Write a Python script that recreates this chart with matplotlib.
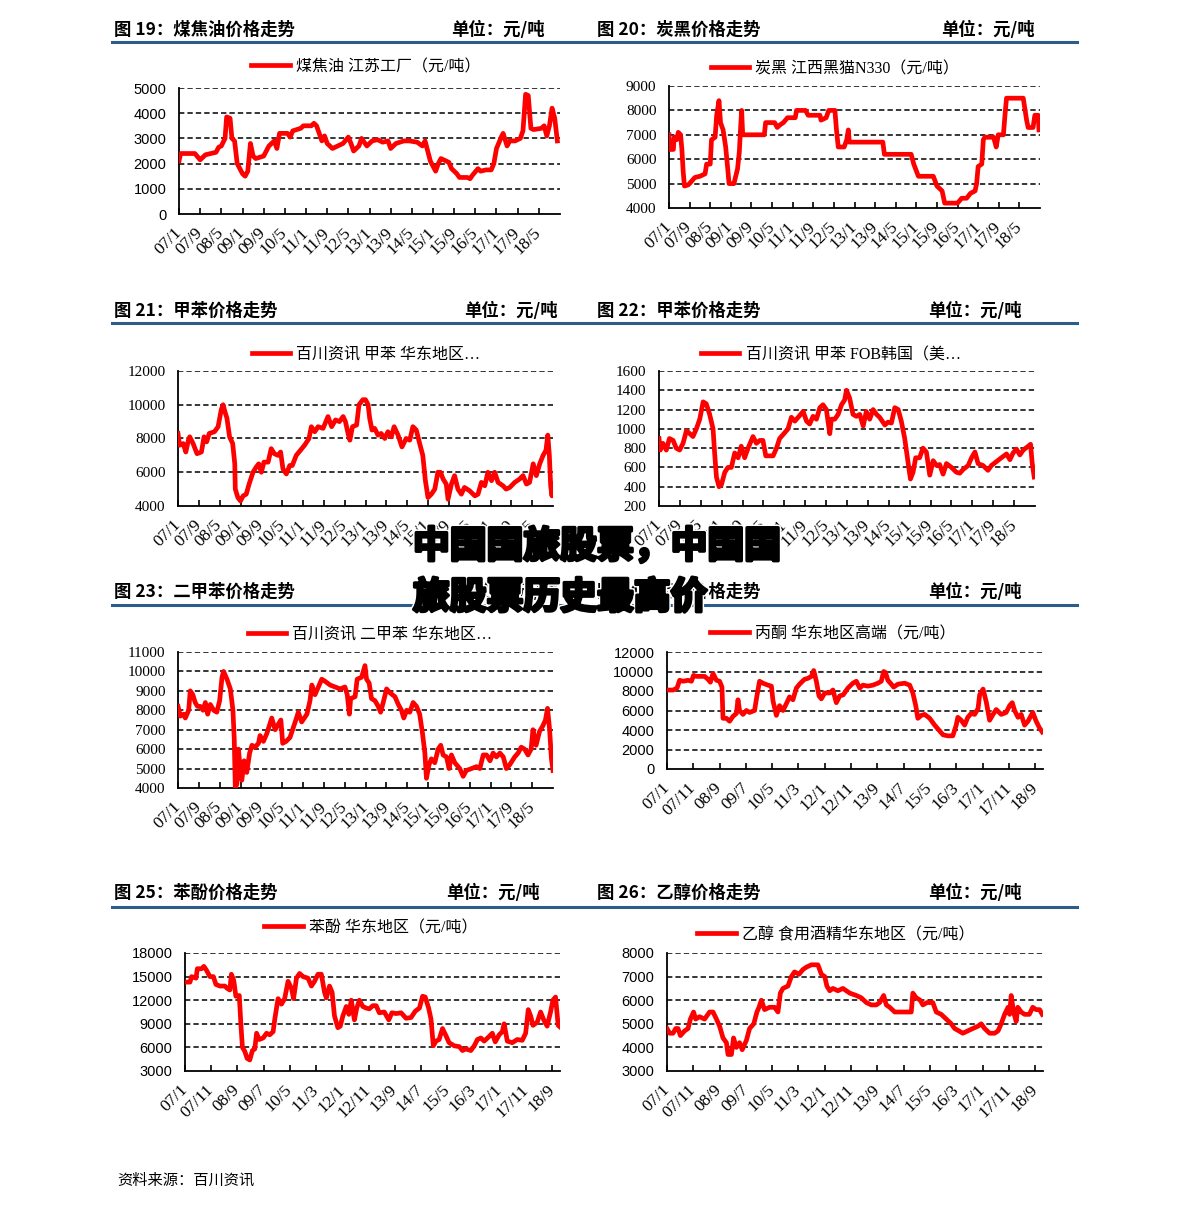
import matplotlib
matplotlib.use('Agg')
import matplotlib.pyplot as plt
import matplotlib.patheffects as pe
from matplotlib.lines import Line2D

W, H = 1191, 1209
CJK = ['Noto Sans CJK SC', 'DejaVu Sans']
LEG_FONT = ['Liberation Serif', 'Noto Sans CJK SC']
RED = '#FF0000'
BLUE = '#2E5C8A'

# x tick labels
labels_8m = ['07/1', '07/9', '08/5', '09/1', '09/9', '10/5', '11/1', '11/9', '12/5',
             '13/1', '13/9', '14/5', '15/1', '15/9', '16/5', '17/1', '17/9', '18/5']
labels_10m = ['07/1', '07/11', '08/9', '09/7', '10/5', '11/3', '12/1', '12/11', '13/9',
              '14/7', '15/5', '16/3', '17/1', '17/11', '18/9']

# series as (months since 2007-01, price)
coal_tar = [(0, 2100), (0.6, 2400), (2, 2400), (5, 2400), (6, 2400), (8, 2150), (10, 2350),
            (12, 2400), (14, 2450), (15, 2650), (16, 2700), (17.4, 3000), (18, 3850),
            (19.3, 3800), (20, 3000), (21, 2900), (22, 2000), (24, 1600), (25, 1500),
            (26, 1700), (27, 2800), (28, 2300), (29, 2200), (32, 2300), (34, 2700),
            (36, 2900), (37, 2600), (38, 3200), (41, 3200), (42, 3050), (43, 3300),
            (46, 3400), (47, 3500), (50, 3500), (51, 3600), (52, 3500), (54, 2900),
            (55, 3100), (56, 2800), (58, 2600), (60, 2700), (62, 2800), (64, 3050),
            (65, 2800), (66, 2500), (68, 2700), (69, 3000), (71, 2700), (73, 2900),
            (75, 2950), (77, 2850), (79, 2900), (80, 2600), (82, 2800), (85, 2900),
            (87, 2900), (90, 2850), (92, 2700), (93, 2900), (94, 2500), (95, 2100),
            (96, 1900), (97, 1700), (98, 2000), (99, 2200), (101, 2100), (102, 2050),
            (103, 1800), (105, 1600), (106, 1450), (109, 1450), (110, 1400), (111, 1550),
            (113, 1800), (114, 1700), (116, 1750), (118, 1750), (119, 2000), (120, 2600),
            (122, 3100), (122.5, 3200), (124, 2700), (125, 2900), (127, 2900), (129, 3000),
            (130, 3300), (131, 4750), (132, 4700), (133, 3400), (134, 3350), (137, 3400),
            (138, 3500), (139, 3100), (140, 3500), (141, 4200), (142, 3800), (143, 2900)]

carbon_black = [(0, 7000), (0.3, 6400), (1.7, 6400), (2, 6900), (3, 6800), (3.6, 7100),
                (4.5, 7000), (5, 6400), (5.5, 5500), (6, 4900), (7.5, 4950), (8.8, 5100),
                (10, 5250), (12, 5300), (14, 5400), (14.6, 5800), (16, 5800), (16.5, 6800),
                (17.9, 6900), (18.5, 7800), (19.4, 8400), (20, 7500), (21, 7200), (22, 6500),
                (22.8, 5600), (23.3, 5000), (25.2, 5000), (25.9, 5300), (26.6, 5600),
                (27.3, 6300), (27.8, 7300), (28.2, 8000), (28.6, 7000), (37, 7000),
                (37.5, 7500), (41, 7500), (42, 7300), (43, 7400), (44.4, 7500), (46, 7700),
                (49, 7700), (49.5, 8000), (53, 8000), (54, 7800), (58.6, 7800), (59, 7600),
                (61, 7700), (62, 8000), (64.4, 8000), (65, 7200), (65.7, 6500), (68, 6500),
                (69, 6800), (69.6, 7200), (70, 6700), (83, 6700), (83.6, 6200), (94, 6200),
                (95, 5800), (96.8, 5300), (102.6, 5300), (104, 4900), (106, 4700),
                (107, 4200), (112, 4200), (113.6, 4400), (115.5, 4400), (117, 4600),
                (118.8, 4700), (119.4, 5000), (120, 5700), (121.4, 5800), (122, 6800),
                (122.6, 6900), (126, 6900), (127, 6500), (127.8, 7000), (129.8, 7000),
                (130.4, 7800), (131, 8500), (137.5, 8500), (138.8, 7600), (139.4, 7300),
                (141.3, 7300), (142, 7800), (143.3, 7800), (143.6, 7200)]

toluene_east = [(0, 8300), (0.6, 7600), (2, 7700), (3, 7200), (4, 7900), (4.5, 8100),
                (5.8, 7700), (7.3, 7100), (9, 7200), (10, 8100), (11, 7800), (12, 8300),
                (14, 8400), (15.4, 8700), (16.6, 9700), (17.3, 10000), (18, 9600),
                (18.8, 9200), (19.8, 8100), (21, 7700), (21.8, 6500), (22, 5000), (23, 4500),
                (24, 4300), (25, 4600), (26.2, 4700), (27.3, 5300), (28.8, 6000), (30, 6300),
                (31, 6500), (32, 6000), (33, 6600), (34.6, 6600), (35.8, 7400), (37, 7100),
                (38.4, 7000), (39.4, 7200), (40.3, 6200), (41.6, 5900), (42.9, 6400),
                (43.9, 6400), (45.4, 7000), (47, 7300), (48.6, 7600), (50.3, 8000),
                (51.2, 8700), (52.5, 8400), (53.8, 8700), (55.7, 8600), (57.6, 9300),
                (59, 8700), (60.5, 9100), (62, 9000), (63.4, 9300), (64.3, 9000),
                (65.3, 8300), (66, 7900), (67, 8700), (68.6, 8800), (69.5, 10000),
                (71, 10300), (72, 10300), (73, 10000), (73.6, 9200), (74.5, 8500),
                (75.5, 8600), (76.8, 8200), (78, 8300), (79.4, 8000), (80.6, 8400),
                (81.9, 8100), (83, 8700), (84.5, 8200), (86, 7500), (87.6, 8000),
                (89, 7900), (90.2, 8700), (91.5, 8500), (92.8, 7700), (94, 7000),
                (95, 5500), (96, 4500), (97.3, 4700), (98.6, 5000), (99.8, 6000),
                (100.8, 6000), (101.8, 5600), (103, 5300), (103.7, 4400), (105, 5300),
                (106.2, 5800), (107.5, 5000), (108.8, 4700), (110, 5100), (112, 4900),
                (114, 4600), (115.2, 4700), (116.5, 5400), (117.8, 5200), (119, 6000),
                (120.4, 5500), (121.6, 6000), (122.9, 5400), (124.8, 5200), (126, 5000),
                (127.4, 5100), (129.3, 5400), (131.2, 5600), (132.5, 5800), (133.8, 5300),
                (135, 5400), (136.4, 6500), (137.6, 5800), (138.9, 6500), (140.2, 7000),
                (141.3, 7300), (142, 8200), (142.6, 7000), (143.1, 5200), (143.6, 4600),
                (144, 5300)]

toluene_fob = [(0, 900), (0.5, 780), (1.5, 850), (2.8, 780), (4, 900), (5.4, 880),
               (6.6, 800), (7.9, 780), (9.2, 850), (10.5, 980), (11.8, 950), (13, 920),
               (14.3, 1000), (15.6, 1100), (16.9, 1280), (18.1, 1260), (19.4, 1150),
               (20.7, 1000), (21.3, 750), (22, 500), (23, 400), (23.9, 420), (25.2, 550),
               (26.4, 600), (27.7, 600), (29, 750), (30.3, 700), (31.5, 820), (32.8, 700),
               (34.1, 800), (36, 920), (37.3, 850), (38.6, 880), (39.8, 880), (40.9, 720),
               (42.4, 720), (43.7, 720), (45, 800), (46.2, 900), (47.5, 940), (49.4, 1000),
               (50.7, 1120), (52, 1080), (53.3, 1120), (55.2, 1180), (56.5, 1080),
               (57.7, 1050), (59, 1130), (60.3, 1100), (61.6, 1220), (62.8, 1250),
               (64.1, 1200), (65.4, 950), (66, 1100), (67.3, 1100), (68.6, 1150),
               (69.9, 1250), (71.1, 1300), (71.8, 1400), (73, 1320), (74.3, 1150),
               (75.6, 1130), (76.9, 1150), (78.2, 1030), (79.4, 1180), (80.7, 1100),
               (82, 1200), (83.3, 1150), (84.5, 1120), (86.5, 1040), (87.7, 1070),
               (89, 1060), (90.3, 1220), (91.6, 1200), (92.8, 1080), (94.1, 900),
               (95.4, 650), (96.3, 480), (97.3, 550), (98.3, 700), (99.8, 700), (101.1, 800),
               (102.4, 760), (103.7, 520), (105, 670), (106.3, 620), (107.5, 630),
               (108.8, 530), (110.1, 640), (112, 600), (113.9, 550), (115.2, 540),
               (116.5, 580), (118.4, 620), (119.7, 700), (121, 760), (122.2, 640),
               (124.1, 620), (126, 570), (127.3, 620), (129.2, 660), (131.1, 700),
               (133.1, 740), (134.4, 680), (135.6, 750), (136.9, 790), (138.2, 730),
               (139.5, 780), (141.4, 820), (142.3, 840), (142.9, 650), (143.7, 500)]

xylene = [(0, 8200), (0.9, 7700), (2.2, 7800), (2.8, 7600), (4.1, 8000), (4.7, 9000),
          (5.7, 8800), (6.6, 8400), (7.5, 8200), (8.6, 8200), (9.6, 8000), (10.5, 8400),
          (11.4, 7800), (12.4, 8300), (13.7, 8000), (14.9, 7900), (16, 8500), (16.9, 9700),
          (17.5, 10000), (18.8, 9600), (20.1, 9100), (21.1, 8000), (21.6, 6500),
          (22, 4000), (22.6, 4200), (23.2, 6000), (23.9, 5000), (24.5, 4400), (25.4, 5400),
          (26.4, 4800), (27.5, 5800), (28.4, 6200), (29.6, 6100), (30.9, 6300),
          (31.5, 6700), (32.8, 6400), (34.1, 6800), (36, 7600), (37.3, 7000), (38.6, 7300),
          (39.5, 7500), (40.2, 6300), (41.5, 6400), (43, 6600), (45, 7400), (46.2, 7900),
          (47.5, 7400), (49.5, 7800), (50.7, 8500), (51.4, 9300), (52.6, 8800),
          (53.9, 9200), (55.2, 9600), (56.4, 9500), (58.4, 9300), (60.3, 9200),
          (62.3, 9100), (64.1, 9200), (65, 8800), (65.8, 7800), (66.3, 8600), (68, 8700),
          (68.8, 9600), (70.5, 9700), (71.8, 10300), (72.4, 9600), (73.4, 9400),
          (74.3, 8600), (75.6, 8500), (76.9, 8200), (77.8, 7900), (78.8, 8400),
          (80.1, 9100), (81.4, 8900), (83.3, 8700), (84.6, 8300), (85.8, 8000),
          (86.7, 7600), (87.8, 8000), (89, 7900), (90.3, 8400), (91.6, 8200), (92.8, 7800),
          (93.9, 6800), (94.8, 5800), (95.4, 4500), (96.4, 5200), (97.3, 5500),
          (98.6, 5300), (99.9, 6000), (100.9, 6200), (101.8, 5700), (103.1, 5600),
          (104.1, 5000), (105, 5700), (106.3, 5300), (108.2, 5000), (109.5, 4600),
          (110.7, 4900), (112.7, 5000), (114.6, 5100), (115.9, 5000), (117.2, 5700),
          (118.5, 5700), (119.8, 5400), (121, 5800), (122.3, 5600), (123.6, 5800),
          (124.9, 5600), (126.1, 5000), (127.4, 5200), (129.3, 5600), (130.6, 5800),
          (131.8, 6100), (133.1, 6000), (134.4, 5700), (135.6, 6000), (136.3, 7000),
          (137.5, 6200), (138.8, 6900), (140.1, 7200), (141.1, 7500), (141.9, 8100),
          (142.7, 7000), (143.4, 5500), (144, 4900)]

acetone = [(0, 8100), (2.3, 8100), (3.8, 8300), (4.8, 9100), (6.1, 9000), (8, 9100),
           (9.3, 9000), (10.1, 9600), (11.2, 9500), (12.4, 9500), (14.3, 9500),
           (15.6, 9200), (16.5, 8900), (17.5, 9800), (18.8, 9100), (20, 9000), (20.9, 8400),
           (21.3, 5200), (22.6, 5200), (23.8, 4900), (25.1, 5400), (26.4, 5700),
           (27, 7100), (27.6, 6000), (28.9, 5600), (30.2, 6000), (31.4, 5800), (33.3, 6000),
           (34.2, 7500), (35.2, 9000), (36.5, 8800), (38.4, 8600), (39.7, 8500),
           (40.3, 7000), (41.6, 5500), (42.8, 6500), (44.1, 6000), (45.4, 6700),
           (46.6, 7400), (47.9, 7100), (49.2, 8300), (50.4, 8700), (52.3, 9200),
           (53.6, 9300), (54.9, 9500), (55.8, 10100), (56.8, 9000), (57.8, 7500),
           (58.7, 7200), (60, 7800), (61.9, 7800), (63.1, 8100), (64.4, 6800), (65.7, 7500),
           (67, 7600), (68.8, 8300), (70.7, 8800), (72, 9000), (73.3, 8300), (74.5, 8600),
           (76.4, 8500), (78.3, 8600), (80.2, 8800), (81.5, 9000), (82.4, 10000),
           (83.1, 9900), (84, 9100), (85.3, 8700), (86.2, 8400), (87.8, 8700),
           (90.4, 8800), (92.3, 8600), (93.5, 7800), (94.6, 6500), (95.4, 5200),
           (96.7, 5500), (98, 5600), (99.9, 5200), (101.8, 4500), (103.7, 3900),
           (105, 3500), (106.8, 3400), (108.7, 3400), (110, 4500), (110.6, 5300),
           (111.9, 5000), (113.2, 4500), (114.4, 5300), (115.7, 5700), (117, 5600),
           (118.3, 6200), (118.9, 7600), (120.2, 8200), (121.4, 6900), (122.7, 5000),
           (124, 5600), (125.2, 6100), (127.1, 5600), (129, 5800), (130.3, 6500),
           (131.3, 6800), (132.2, 6000), (133.5, 5300), (134.7, 5600), (136, 4500),
           (137.3, 4900), (139.1, 5800), (140.4, 4900), (141.7, 4200), (142.7, 3800)]

phenol = [(0, 14300), (1.9, 14300), (2.5, 15000), (4.2, 14800), (4.7, 16000), (6.3, 16000),
          (7.2, 16300), (8.2, 15800), (9.5, 15000), (10.8, 15000), (11.8, 14000),
          (13.3, 13800), (15.2, 13800), (16.1, 13500), (17.1, 13300), (17.7, 15300),
          (18.6, 14500), (19.4, 12500), (20.7, 12600), (21.3, 9000), (21.9, 6000),
          (22.8, 5500), (23.7, 4600), (24.7, 4400), (25.7, 5600), (26.6, 5800),
          (27.3, 7800), (28.3, 7000), (29.8, 7200), (31.1, 7800), (32.3, 7600),
          (33.6, 8000), (34.2, 9500), (34.9, 11000), (35.5, 12200), (36.8, 11500),
          (38, 12200), (39.3, 14400), (40.6, 13500), (41.4, 12200), (42.5, 14800),
          (43.7, 15400), (45, 15000), (46.9, 14800), (48.2, 13800), (49.4, 14400),
          (50.7, 15300), (52, 15300), (53.2, 13000), (53.9, 12300), (55.1, 13800),
          (56.1, 13000), (57, 10000), (58.3, 8500), (59.2, 8700), (60.2, 10000),
          (61.5, 11200), (62.5, 10200), (63.4, 12000), (64.6, 9500), (65.5, 11000),
          (66.5, 12000), (67.8, 11200), (69.1, 11000), (70.3, 10900), (71.6, 11300),
          (72.9, 11300), (74.1, 10400), (76, 10500), (77.7, 9500), (78.9, 10400),
          (80.5, 10300), (82.4, 10400), (84.3, 9700), (86.2, 9800), (87.8, 10600),
          (89.4, 11000), (90.6, 12500), (91.6, 12400), (92.9, 11000), (93.8, 9600),
          (94.7, 6200), (95.7, 6800), (96.9, 7000), (98.2, 8400), (99.5, 7500),
          (100.7, 6600), (102.7, 6200), (104.6, 6100), (105.8, 5600), (107.1, 5800),
          (109, 5600), (110.3, 6200), (111.5, 7000), (112.8, 7200), (114.1, 6800),
          (116, 7400), (117.2, 7800), (118.3, 6700), (119.8, 7600), (121, 8000),
          (121.7, 9000), (122.9, 6800), (124.8, 6600), (126.7, 7000), (128.6, 6900),
          (129.9, 7800), (130.9, 10800), (131.8, 10000), (132.7, 8800), (134.3, 9200),
          (135.6, 10500), (136.8, 9500), (138.1, 8700), (139.4, 10500), (140.3, 12000),
          (141.3, 12400), (142.3, 8800), (143, 8600)]

ethanol = [(0, 4800), (1, 4600), (2.3, 4600), (3.3, 4800), (4.2, 4800), (5.1, 4500),
           (6.7, 4700), (8, 4800), (8.9, 5200), (10.1, 5500), (10.9, 5200), (12.4, 5300),
           (14.3, 5200), (16.2, 5500), (17.5, 5500), (18.8, 5200), (20, 4900),
           (21.3, 4400), (22.6, 4200), (23.2, 3700), (24.5, 3700), (25.3, 4400),
           (26.4, 4000), (27.6, 4200), (28.6, 3900), (30.2, 4300), (31.4, 4800),
           (33, 5000), (34.2, 5500), (35, 5700), (35.9, 6000), (37.1, 5600), (39, 5700),
           (40.9, 5700), (42.2, 5500), (43.1, 6300), (44.1, 6500), (46, 6600), (47.3, 7000),
           (48.5, 7200), (50.2, 7100), (51.7, 7300), (53, 7400), (54.9, 7500),
           (57.4, 7500), (58.7, 7100), (60, 7000), (60.8, 6600), (61.9, 6400), (63.1, 6500),
           (65, 6400), (66.9, 6500), (69.5, 6300), (72, 6200), (73.9, 6100), (75.8, 5900),
           (77.7, 5800), (79.6, 5800), (80.9, 5900), (82.4, 6200), (83.4, 5800),
           (84.7, 5700), (86.6, 5500), (88.5, 5500), (91, 5500), (92.9, 5500),
           (93.5, 6300), (94.8, 6100), (96.3, 6000), (97.3, 5800), (98.9, 5900),
           (101.1, 5900), (102.4, 5500), (104.3, 5400), (106.2, 5200), (108.1, 5000),
           (109.4, 4800), (111, 4700), (112.5, 4600), (114.4, 4700), (116.3, 4800),
           (118.3, 4900), (119.5, 5000), (120.8, 4800), (122.7, 4600), (124.6, 4600),
           (125.9, 4700), (127.1, 5000), (128.4, 5400), (129.7, 5700), (130.3, 5400),
           (130.9, 6200), (131.8, 5500), (132.8, 5100), (133.4, 5700), (134.7, 5500),
           (136, 5400), (137.8, 5400), (139.1, 5700), (140.4, 5600), (141.7, 5600),
           (142.7, 5400)]

fig = plt.figure(figsize=(W / 100, H / 100), dpi=100)


def header(y, x_left, x_unit, title):
    fig.text(x_left / W, 1 - y / H, title, family=CJK, fontsize=12.5,
             fontweight='bold', ha='left', va='center')
    fig.text(x_unit / W, 1 - y / H, '单位：元/吨', family=CJK, fontsize=12.5,
             fontweight='bold', ha='right', va='center')


def panel(box, data, ylim, ystep, xmax, xstep, xlabels, label, leg_xy, yfont, yfs):
    left, right, top, bottom = box
    ax = fig.add_axes([left / W, 1 - bottom / H, (right - left) / W, (bottom - top) / H])
    xs = [p[0] for p in data]
    ys = [p[1] for p in data]
    ax.plot(xs, ys, color=RED, lw=3.4, solid_joinstyle='round', label=label, zorder=3)
    ax.set_xlim(0, xmax)
    ax.set_ylim(*ylim)
    yt = list(range(ylim[0], ylim[1] + 1, ystep))
    ax.set_yticks(yt)
    ax.set_yticklabels([str(v) for v in yt], family=yfont, fontsize=yfs)
    for v in yt[1:]:
        ax.axhline(v, color='black', lw=1.1, ls=(0, (3.5, 2)), zorder=1)
    for s in ['top', 'right']:
        ax.spines[s].set_visible(False)
    for s in ['left', 'bottom']:
        ax.spines[s].set_linewidth(1.3)
    ax.tick_params(axis='y', length=0, pad=9)
    xt = list(range(0, xstep * len(xlabels), xstep))
    ax.set_xticks(xt)
    ax.set_xticklabels(xlabels, rotation=45, ha='right', va='center',
                       rotation_mode='anchor', family='Liberation Serif', fontsize=12.5)
    ax.tick_params(axis='x', direction='in', length=4, width=1.2, pad=12)
    ax.legend(loc='center', bbox_to_anchor=(leg_xy[0] / W, 1 - leg_xy[1] / H),
              bbox_transform=fig.transFigure, frameon=False, handlelength=2.4,
              handletextpad=0.4, prop={'family': LEG_FONT, 'size': 11.5})
    return ax


# row 1
header(30, 114, 545, '图 19：煤焦油价格走势')
header(30, 597, 1035, '图 20：炭黑价格走势')
panel((179, 560, 88, 214), coal_tar, (0, 5000), 1000, 144, 8, labels_8m,
      '煤焦油 江苏工厂（元/吨）', (366, 67), 'Liberation Sans', 10.5)
panel((669, 1040, 86, 208), carbon_black, (4000, 9000), 1000, 144, 8, labels_8m,
      '炭黑 江西黑猫N330（元/吨）', (835, 69), 'Liberation Serif', 11)

# row 2
header(311, 114, 558, '图 21：甲苯价格走势')
header(311, 597, 1022, '图 22：甲苯价格走势')
panel((178, 553, 371, 506), toluene_east, (4000, 12000), 2000, 144, 8, labels_8m,
      '百川资讯 甲苯 华东地区…', (366, 355), 'Liberation Serif', 11)
panel((659, 1035, 371, 506), toluene_fob, (200, 1600), 200, 144, 8, labels_8m,
      '百川资讯 甲苯 FOB韩国（美…', (831, 355), 'Liberation Serif', 11)

# row 3
header(592, 114, 558, '图 23：二甲苯价格走势')
header(592, 597, 1022, '图 24：丙酮价格走势')
panel((178, 553, 652, 788), xylene, (4000, 11000), 1000, 144, 8, labels_8m,
      '百川资讯 二甲苯 华东地区…', (370, 635), 'Liberation Serif', 11)
panel((667, 1043, 652, 769), acetone, (0, 12000), 2000, 143, 10, labels_10m,
      '丙酮 华东地区高端（元/吨）', (833, 634), 'Liberation Sans', 10.5)

# row 4
header(893, 114, 540, '图 25：苯酚价格走势')
header(893, 597, 1022, '图 26：乙醇价格走势')
panel((185, 560, 953, 1071), phenol, (3000, 18000), 3000, 143, 10, labels_10m,
      '苯酚 华东地区（元/吨）', (371, 928), 'Liberation Sans', 10.5)
panel((667, 1043, 953, 1071), ethanol, (3000, 8000), 1000, 143, 10, labels_10m,
      '乙醇 食用酒精华东地区（元/吨）', (836, 935), 'Liberation Sans', 10.5)

# blue rules under the headers
for y in [42, 323, 605, 907]:
    fig.add_artist(Line2D([112 / W, 1077 / W], [1 - y / H, 1 - y / H],
                          color=BLUE, lw=2.2))

# footer
fig.text(117 / W, 1 - 1180 / H, '资料来源：百川资讯', family=CJK, fontsize=11,
         style='italic', ha='left', va='center')

# overlaid caption
wm_fx = [pe.Stroke(linewidth=4.5, foreground='white'),
         pe.Stroke(linewidth=2.4, foreground='black'), pe.Normal()]
fig.text(413 / W, 1 - 547 / H, '中国国旅股票，中国国', family=CJK, fontsize=26.5,
         fontweight='heavy', color='black', ha='left', va='center',
         path_effects=wm_fx, zorder=10)
fig.text(413 / W, 1 - 598 / H, '旅股票历史最高价', family=CJK, fontsize=26.5,
         fontweight='heavy', color='black', ha='left', va='center',
         path_effects=wm_fx, zorder=10)

fig.savefig('out.png', dpi=100, facecolor='white')
